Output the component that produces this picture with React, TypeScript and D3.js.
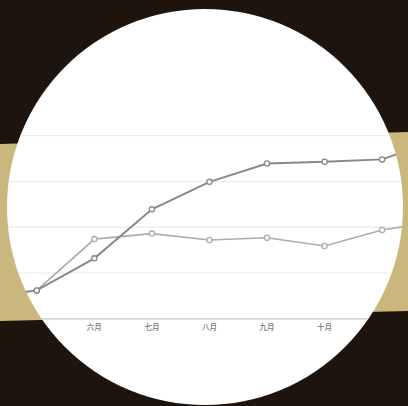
import React from "react";
import * as d3 from "d3";

const months = ["四月", "五月", "六月", "七月", "八月", "九月", "十月", "十一月", "十二月"];
const seriesA = [22, 31, 66, 119.5, 149.5, 169.5, 171.5, 174, 196];
const seriesB = [24, 31, 87, 93, 86, 88.5, 79.5, 97, 107];
const yTicks = [0, 50, 100, 150, 200];

const W = 408;
const H = 406;
const CX = 205;
const CY = 207;
const R = 198;

export default function App() {
  const x = d3.scalePoint<string>().domain(months).range([-20.75, 439.65]);
  const y = d3.scaleLinear().domain([0, 200]).range([318.8, 135.6]);

  const line = d3
    .line<number>()
    .x((_, i) => x(months[i]) as number)
    .y((d) => y(d));

  const series = [
    { values: seriesB, color: "#acacac", width: 1.6 },
    { values: seriesA, color: "#888888", width: 1.9 },
  ];

  const labelMonths = months.filter((m) => {
    const px = x(m) as number;
    return px > 20 && px < W - 20;
  });

  return (
    <svg
      width={W}
      height={H}
      style={{ position: "fixed", left: 0, top: 0, display: "block" }}
    >
      <defs>
        <clipPath id="circ">
          <circle cx={CX} cy={CY} r={R} />
        </clipPath>
        <pattern id="stripes" width="9" height="9" patternUnits="userSpaceOnUse" patternTransform="rotate(35)">
          <line x1="0" y1="0" x2="0" y2="9" stroke="#ffffff" strokeOpacity="0.012" strokeWidth="2" />
        </pattern>
      </defs>
      <rect x={0} y={0} width={W} height={H} fill="#1d140e" />
      <rect x={0} y={0} width={W} height={H} fill="url(#stripes)" />
      <polygon points="0,144 408,132 408,311 0,321" fill="#c9b77e" />
      <circle cx={CX} cy={CY} r={R} fill="#ffffff" />
      <g clipPath="url(#circ)">
        {yTicks.slice(1).map((t) => (
          <line key={t} x1={0} x2={W} y1={y(t)} y2={y(t)} stroke="#ebebeb" strokeWidth={1.2} />
        ))}
        <line x1={0} x2={W} y1={y(0)} y2={y(0)} stroke="#c4c4c4" strokeWidth={1.2} />
        {labelMonths.map((m) => (
          <text
            key={m}
            x={x(m) as number}
            y={y(0) + 11}
            textAnchor="middle"
            fontSize={7.5}
            fontWeight={500}
            fontFamily="'Noto Sans CJK SC', 'Noto Sans', sans-serif"
            fill="#767676"
          >
            {m}
          </text>
        ))}
        {series.map((s, si) => (
          <g key={si}>
            <path d={line(s.values) || ""} fill="none" stroke={s.color} strokeWidth={s.width} />
            {s.values.map((v, i) => (
              <circle
                key={i}
                cx={x(months[i]) as number}
                cy={y(v)}
                r={2.6}
                fill="#ffffff"
                stroke={s.color}
                strokeWidth={1.3}
              />
            ))}
          </g>
        ))}
      </g>
    </svg>
  );
}
